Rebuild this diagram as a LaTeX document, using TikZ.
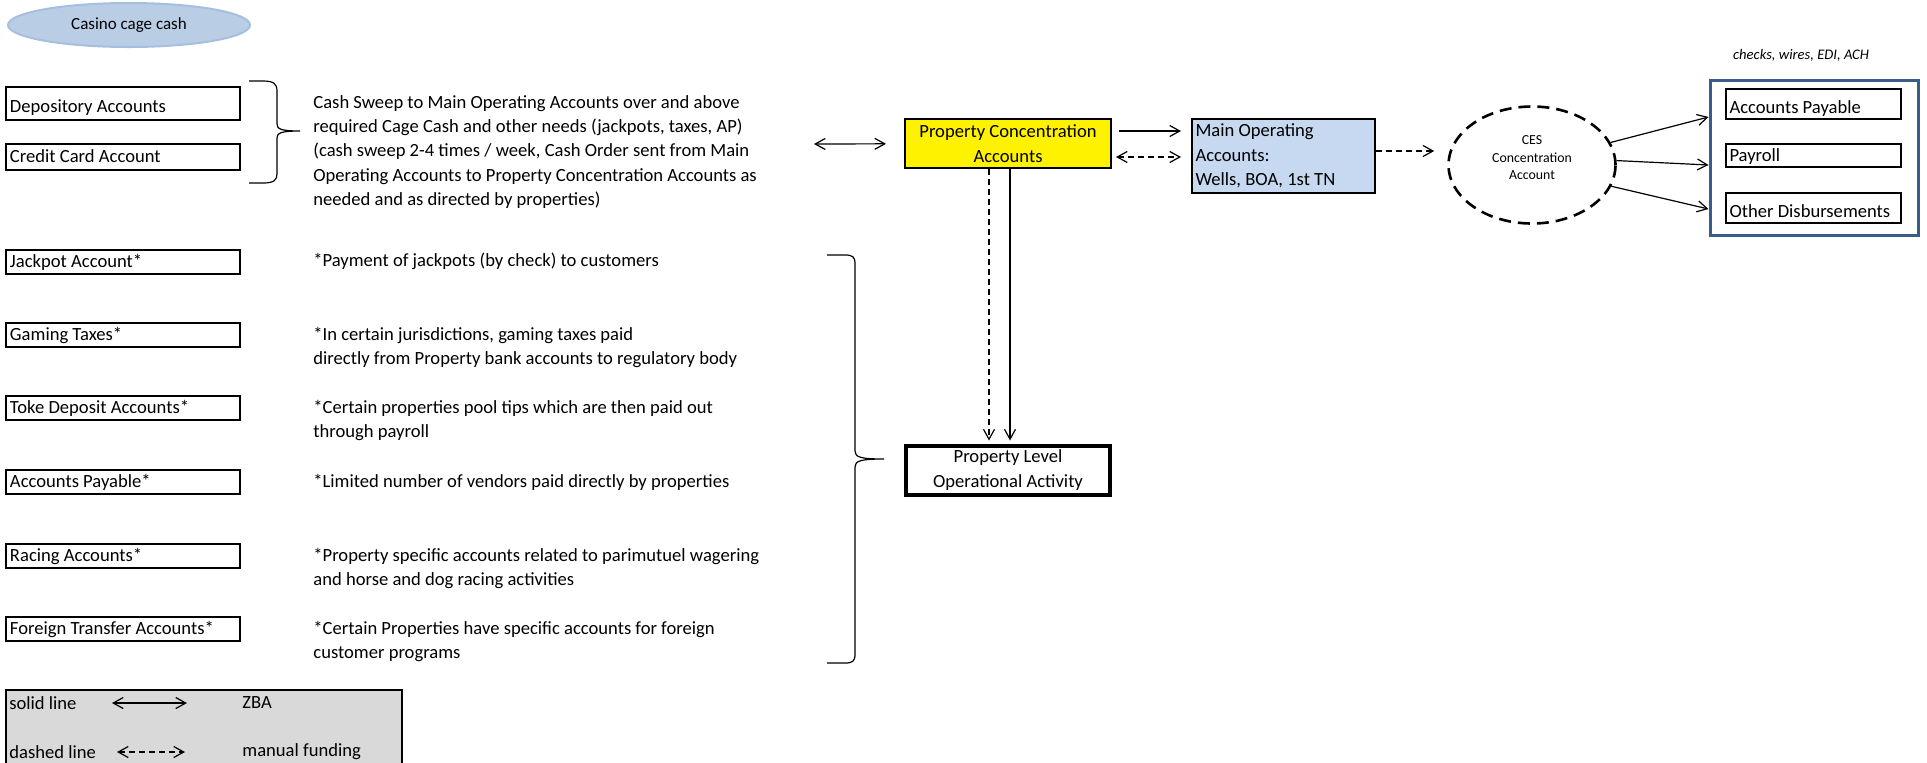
\documentclass[tikz,border=0pt]{standalone}
\usepackage{fontspec}
\setmainfont{Carlito}
\usetikzlibrary{arrows.meta, positioning, calc, shapes.geometric}
\definecolor{cageblue}{RGB}{185,205,229}
\definecolor{cageedge}{RGB}{167,191,222}
\definecolor{mainblue}{RGB}{198,217,241}
\definecolor{frameblue}{RGB}{56,93,138}
\definecolor{legendgray}{RGB}{217,217,217}

\begin{document}
\begin{tikzpicture}[x=0.5pt, y=-0.5pt, >={Straight Barb[length=5pt,width=5.5pt]},
  font=\fontsize{9.3}{12.2}\selectfont,
  acct/.style={draw, line width=1pt, minimum width=117pt, minimum height=12pt,
    text width=113pt, inner xsep=2pt, inner ysep=0pt, align=flush left,
    text height=7pt, text depth=1.5pt},
  paybox/.style={draw, line width=1pt, minimum width=87.5pt, text width=84pt,
    inner xsep=1.75pt, inner ysep=0pt, align=flush left, text height=7pt, text depth=1.5pt},
  note/.style={anchor=west, align=flush left, inner sep=0pt},
  flow/.style={line width=0.6pt, ->},
  funding/.style={line width=0.6pt, dash pattern=on 3pt off 2pt}]
  \useasboundingbox (0,0) rectangle (1927,762);
  % Cage cash
  \node[ellipse, fill=cageblue, draw=cageedge, line width=1pt, minimum width=121pt,
    minimum height=22pt, font=\fontsize{8.5}{10}\selectfont] (cage) at (129,25) {Casino cage cash};
  % Swept accounts
  \node[acct, minimum height=16.5pt, text height=9pt, text depth=0pt] (dep) at (123,103.5) {Depository Accounts};
  \node[acct, minimum height=13pt] (card) at (123,157) {Credit Card Account};
  \draw[line width=0.6pt] (249,81) -- (263,81) .. controls (274,81) and (277,84) .. (277,91)
    -- (277,124) .. controls (277,129) and (281,131) .. (300,131)
    .. controls (281,131) and (277,133) .. (277,138) -- (277,174)
    .. controls (277,180) and (274,183) .. (263,183) -- (249,183);
  \node[note] (sweep) at (313,152) {Cash Sweep to Main Operating Accounts over and above\\
    required Cage Cash and other needs (jackpots, taxes, AP)\\
    (cash sweep 2-4 times / week, Cash Order sent from Main\\
    Operating Accounts to Property Concentration Accounts as\\
    needed and as directed by properties)};
  % Property level accounts
  \node[acct] (jack) at (123,261.5) {Jackpot Account*};
  \node[acct] (tax) at (123,335) {Gaming Taxes*};
  \node[acct] (toke) at (123,408) {Toke Deposit Accounts*};
  \node[acct] (appr) at (123,482) {Accounts Payable*};
  \node[acct] (race) at (123,556) {Racing Accounts*};
  \node[acct] (forex) at (123,629) {Foreign Transfer Accounts*};
  \node[note] (jacknote) at (313,261.5) {*Payment of jackpots (by check) to customers};
  \node[note] (taxnote) at (313,347.2) {*In certain jurisdictions, gaming taxes paid\\
    directly from Property bank accounts to regulatory body};
  \node[note] (tokenote) at (313,420.2) {*Certain properties pool tips which are then paid out\\
    through payroll};
  \node[note] (apnote) at (313,482) {*Limited number of vendors paid directly by properties};
  \node[note] (racenote) at (313,568.2) {*Property specific accounts related to parimutuel wagering\\
    and horse and dog racing activities};
  \node[note] (forexnote) at (313,641.2) {*Certain Properties have specific accounts for foreign\\
    customer programs};
  \draw[line width=0.6pt] (827,255) -- (845,255) .. controls (853,255) and (855,257) .. (855,264)
    -- (855,451) .. controls (855,457) and (860,459) .. (884,459)
    .. controls (860,459) and (855,461) .. (855,467) -- (855,654)
    .. controls (855,661) and (853,663) .. (845,663) -- (827,663);
  % Concentration and operating accounts
  \node[draw, fill=yellow, line width=1pt, minimum width=103pt, minimum height=24.5pt,
    align=center, inner sep=0pt] (pca) at (1008,143.5) {Property Concentration\\Accounts};
  \node[draw, fill=mainblue, line width=1pt, minimum width=91.5pt, minimum height=37pt,
    text width=88pt, inner xsep=1.75pt, inner ysep=0pt, align=flush left] (main) at (1283.5,156)
    {Main Operating\\Accounts:\\Wells, BOA, 1st TN};
  \node[draw, line width=2pt, minimum width=102pt, minimum height=24.5pt, align=center,
    inner sep=0pt] (pla) at (1008,470) {Property Level\\Operational Activity};
  \coordinate (swp) at (814,144);
  \draw[flow, <->, shorten >=9pt] (swp) -- (pca);
  \draw[flow, shorten <=3.5pt, shorten >=5pt] ([yshift=6.25pt]pca.east) -- ([yshift=6.25pt]pca.east -| main.west);
  \draw[flow, funding, <->, shorten <=2pt, shorten >=5pt] ([yshift=-6.75pt]pca.east) -- ([yshift=-6.75pt]pca.east -| main.west);
  \draw[flow, funding, shorten >=1.5pt] ([xshift=-9.5pt]pca.south) -- ([xshift=-9.5pt]pla.north);
  \draw[flow, shorten >=1.5pt] ([xshift=1pt]pca.south) -- ([xshift=1pt]pla.north);
  % CES disbursements
  \node[ellipse, draw, line width=1.3pt, dash pattern=on 6pt off 3.5pt, minimum width=83.5pt,
    minimum height=58.5pt, align=center, inner sep=0pt,
    font=\fontsize{6.9}{8.75}\selectfont] (ces) at (1532,165) {CES\\Concentration\\Account\rule[-7pt]{0pt}{7pt}};
  \draw[flow, funding, shorten >=6.5pt] ([yshift=2.5pt]main.east) -- ([yshift=2.5pt]main.east -| ces.west);
  \node[draw=frameblue, line width=1.5pt, minimum width=104pt, minimum height=77.5pt] (outer) at (1814,157.5) {};
  \node[paybox, minimum height=15pt, text height=9pt, text depth=0pt] (ap) at (1813.5,104) {Accounts Payable};
  \node[paybox, minimum height=11.5pt] (pay) at (1813.5,155.5) {Payroll};
  \node[paybox, minimum height=15pt, text height=9pt, text depth=0pt] (other) at (1813.5,208) {Other Disbursements};
  \node[font=\fontsize{7.3}{9}\itshape] (media) at (1801,55) {checks, wires, EDI, ACH};
  \draw[flow] (ces.16) -- ($(ap.west -| outer.west)+(0,13)$);
  \draw[flow] (ces.3) -- ($(pay.west -| outer.west)+(0,9.5)$);
  \draw[flow] (ces.-15) -- ($(other.west -| outer.west)+(0,1)$);
  % Legend
  \draw[fill=legendgray, line width=1pt] (6,690) rectangle (402,766);
  \node[note] (solid) at (9,703) {solid line};
  \node[note] (dash) at (9,752) {dashed line};
  \coordinate (zbaL) at (112,703);
  \coordinate (zbaR) at (187,703);
  \coordinate (manL) at (117,752);
  \coordinate (manR) at (185,752);
  \draw[flow, <->] (zbaL) -- (zbaR);
  \draw[flow, funding, <->] (manL) -- (manR);
  \node[note] (zba) at (242,703) {ZBA};
  \node[note] (manual) at (242,752) {manual funding};
\end{tikzpicture}
\end{document}
